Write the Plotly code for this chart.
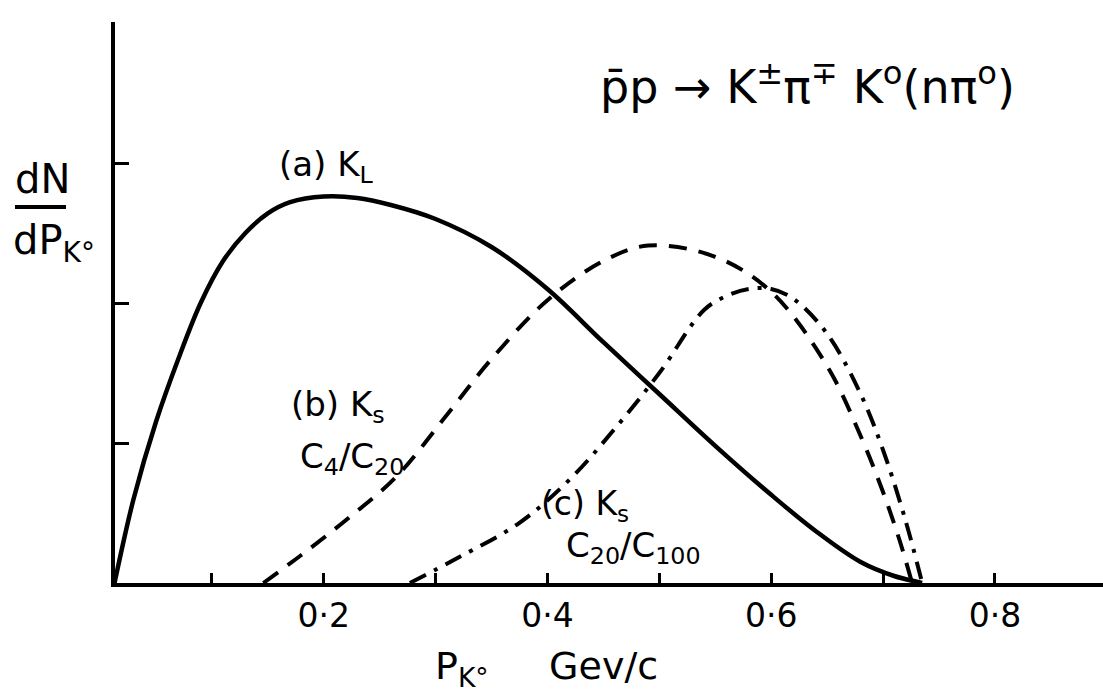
import plotly.graph_objects as go

# ---- data (momentum in GeV/c, dN/dP in arbitrary units) ----
kl_p = [0.013, 0.03, 0.05, 0.07, 0.09, 0.11, 0.13, 0.15, 0.17, 0.20, 0.23, 0.26,
        0.30, 0.35, 0.40, 0.45, 0.50, 0.55, 0.60, 0.64, 0.68, 0.71, 0.735]
kl_n = [0.0, 0.6, 1.15, 1.6, 2.0, 2.3, 2.5, 2.64, 2.72, 2.76, 2.75, 2.7,
        2.6, 2.4, 2.1, 1.72, 1.35, 0.98, 0.63, 0.37, 0.15, 0.05, 0.0]

ks1_p = [0.146, 0.18, 0.22, 0.265, 0.31, 0.35, 0.40, 0.45, 0.49, 0.55, 0.60,
         0.65, 0.68, 0.70, 0.715, 0.726]
ks1_n = [0.0, 0.2, 0.45, 0.76, 1.2, 1.6, 2.02, 2.3, 2.41, 2.33, 2.08,
         1.55, 1.05, 0.65, 0.3, 0.0]

ks2_p = [0.277, 0.32, 0.375, 0.42, 0.46, 0.50, 0.54, 0.56, 0.58, 0.60, 0.62,
         0.65, 0.68, 0.70, 0.72, 0.735]
ks2_n = [0.0, 0.18, 0.43, 0.74, 1.1, 1.5, 1.95, 2.05, 2.1, 2.1, 2.03,
         1.78, 1.35, 0.95, 0.45, 0.0]

major_ticks = [0.2, 0.4, 0.6, 0.8]
major_text = ["0·2", "0·4", "0·6", "0·8"]
minor_ticks = [0.1, 0.3, 0.5, 0.7]
ytick_vals = [1, 2, 3]

W, H = 1103, 695
L, R, T, B = 115, 0, 22, 112
PW, PH = W - L - R, H - T - B


def px(x):
    return (x - L) / PW


def py(y):
    return (H - B - y) / PH


FONT = "DejaVu Sans"
fig = go.Figure()
fig.add_trace(go.Scatter(x=kl_p, y=kl_n, mode="lines",
                         line=dict(color="black", width=4.5, shape="spline"), showlegend=False))
fig.add_trace(go.Scatter(x=ks1_p, y=ks1_n, mode="lines",
                         line=dict(color="black", width=4, shape="spline", dash="18px,12px"),
                         showlegend=False))
fig.add_trace(go.Scatter(x=ks2_p, y=ks2_n, mode="lines",
                         line=dict(color="black", width=4, shape="spline", dash="18px,9px,4px,9px"),
                         showlegend=False))

fig.update_layout(
    width=W, height=H,
    margin=dict(l=L, r=R, t=T, b=B, pad=0),
    paper_bgcolor="white", plot_bgcolor="white",
    font=dict(family=FONT, color="black"),
    xaxis=dict(range=[(L - 100) / 1118.6, (W - 100) / 1118.6], showgrid=False, zeroline=False,
               showline=True, linecolor="black", linewidth=4,
               ticks="inside", ticklen=10, tickwidth=3, tickcolor="black",
               tickvals=major_ticks, ticktext=major_text, tickfont=dict(size=33, family=FONT),
               minor=dict(tickvals=minor_ticks, ticks="inside", ticklen=10, tickwidth=3,
                          tickcolor="black", showgrid=False)),
    yaxis=dict(range=[0, PH / 140.0], showgrid=False, zeroline=False,
               showline=True, linecolor="black", linewidth=4,
               ticks="inside", ticklen=14, tickwidth=3, tickcolor="black",
               tickvals=ytick_vals, showticklabels=False),
)

ann = [
    dict(x=px(807), y=py(84), text="p̄p → K<sup>±</sup>π<sup>∓</sup> K<sup>o</sup>(nπ<sup>o</sup>)", size=46),
    dict(x=px(326), y=py(167), text="(a) K<sub>L</sub>", size=34),
    dict(x=px(338), y=py(406), text="(b) K<sub>s</sub>", size=34),
    dict(x=px(352), y=py(458), text="C<sub>4</sub>/C<sub>20</sub>", size=34),
    dict(x=px(585), y=py(505), text="(c) K<sub>s</sub>", size=33),
    dict(x=px(633), y=py(547), text="C<sub>20</sub>/C<sub>100</sub>", size=34),
    dict(x=px(42), y=py(179), text="dN", size=40),
    dict(x=px(54), y=py(243), text="dP<sub>K°</sub>", size=40),
    dict(x=px(546), y=py(668), text="P<sub>K°</sub>     Gev/c", size=38),
]
for a in ann:
    fig.add_annotation(x=a["x"], y=a["y"], xref="paper", yref="paper", text=a["text"],
                       showarrow=False, xanchor="center", yanchor="middle",
                       font=dict(size=a["size"], family=FONT, color="black"))

fig.add_shape(type="line", xref="paper", yref="paper", x0=px(15), x1=px(66), y0=py(207), y1=py(207),
              line=dict(color="black", width=4))

fig.write_html("out.html")
